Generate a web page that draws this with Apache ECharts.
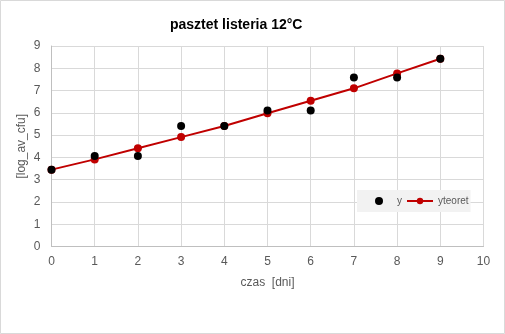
<!DOCTYPE html>
<html>
<head>
<meta charset="utf-8">
<script src="https://cdn.jsdelivr.net/npm/echarts@6/dist/echarts.min.js"></script>
<style>html,body{margin:0;padding:0;background:#fff}#c{width:505px;height:334px}</style>
</head>
<body>
<div id="c"></div>
<script>
var days = [0, 1, 2, 3, 4, 5, 6, 7, 8, 9];
var yObserved = [3.45, 4.06, 4.06, 5.41, 5.41, 6.10, 6.11, 7.59, 7.59, 8.43];
var yTheoretical = [3.45, 3.91, 4.41, 4.91, 5.41, 5.98, 6.54, 7.10, 7.77, 8.43];
var xTicks = [0, 10, 1];
var yTicks = [0, 9, 1];

var chart = echarts.init(document.getElementById('c'), null, {renderer: 'canvas'});
var narrow = "'Liberation Sans Narrow', 'Arial Narrow', 'Liberation Sans', sans-serif";
chart.setOption({
  animation: false,
  backgroundColor: '#fff',
  graphic: [{
    type: 'rect', shape: {x: 0.5, y: 0.5, width: 504, height: 333},
    style: {fill: null, stroke: '#d9d9d9', lineWidth: 1}, silent: true
  }],
  title: {
    text: 'pasztet listeria 12°C', left: 165, top: 13,
    textStyle: {fontFamily: "'Liberation Sans', Arial, sans-serif", fontSize: 14, fontWeight: 'bold', color: '#000'}
  },
  grid: {left: 51.5, right: 21.5, top: 46, bottom: 87.5, containLabel: false},
  legend: {
    left: 357, top: 190, backgroundColor: '#f2f2f2', padding: [6, 2, 6, 18],
    itemWidth: 26, itemHeight: 8, itemGap: 4,
    textStyle: {fontFamily: narrow, fontSize: 10, color: '#595959'},
    data: [{name: 'y', icon: 'circle'}, {name: 'yteoret'}]
  },
  xAxis: {
    type: 'value', min: xTicks[0], max: xTicks[1], interval: xTicks[2],
    name: 'czas  [dni]', nameLocation: 'middle', nameGap: 30,
    nameTextStyle: {fontFamily: narrow, fontSize: 12, color: '#595959'},
    axisLine: {show: true, lineStyle: {color: '#bfbfbf', width: 1}},
    axisTick: {show: false},
    axisLabel: {fontFamily: narrow, fontSize: 12, color: '#595959', margin: 9},
    splitLine: {show: true, lineStyle: {color: '#d9d9d9', width: 1}}
  },
  yAxis: {
    type: 'value', min: yTicks[0], max: yTicks[1], interval: yTicks[2],
    name: '[log_av_cfu]', nameLocation: 'middle', nameGap: 24, nameMoveOverlap: false,
    nameTextStyle: {fontFamily: narrow, fontSize: 12, color: '#595959'},
    axisLine: {show: true, lineStyle: {color: '#bfbfbf', width: 1}},
    axisTick: {show: false},
    axisLabel: {fontFamily: narrow, fontSize: 12, color: '#595959', margin: 11},
    splitLine: {show: true, lineStyle: {color: '#d9d9d9', width: 1}}
  },
  series: [
    {
      name: 'yteoret', type: 'line', data: days.map(function(d, i){return [d, yTheoretical[i]];}),
      symbol: 'circle', symbolSize: 8,
      lineStyle: {color: '#c00000', width: 2},
      itemStyle: {color: '#c00000', opacity: 1}, z: 2
    },
    {
      name: 'y', type: 'scatter', data: days.map(function(d, i){return [d, yObserved[i]];}),
      symbol: 'circle', symbolSize: 8,
      itemStyle: {color: '#000', opacity: 1}, z: 3
    }
  ]
});
</script>
</body>
</html>
